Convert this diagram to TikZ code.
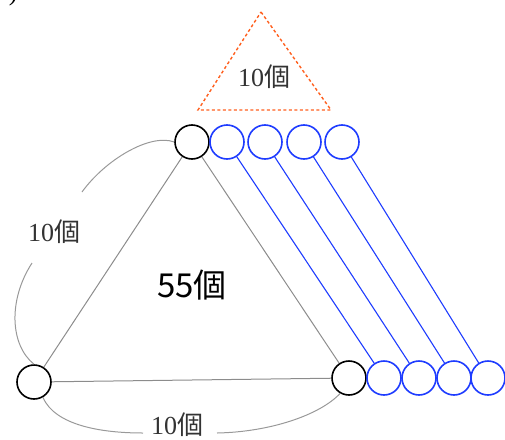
\documentclass[tikz,border=0pt]{standalone}
\usepackage{fontspec}
\setmainfont{Liberation Serif}
\newfontfamily\jpfont{Noto Sans CJK JP}
\usetikzlibrary{positioning}

\begin{document}
\begin{tikzpicture}[x=1pt, y=-1pt,
  ball/.style={circle, draw, line width=1.6pt, minimum size=34pt, inner sep=0pt},
  newball/.style={ball, draw={rgb,255:red,30;green,60;blue,255}},
  edge/.style={draw=black!45, line width=1pt},
  slide/.style={draw={rgb,255:red,30;green,60;blue,255}, line width=1.1pt},
  brace/.style={draw=black!40, line width=1pt},
  count/.style={text=black!80, font=\fontsize{26}{26}\selectfont, inner sep=0pt}
]
\useasboundingbox (0,0) rectangle (505,439);
\node[anchor=base east, font=\fontsize{26}{26}\selectfont] (num) at (21,1) {2)};
% added row on top
\draw[draw={rgb,255:red,255;green,95;blue,30}, line width=1.4pt, dash pattern=on 3pt off 2.5pt]
  (261,12) -- (331,110) -- (198,110) -- cycle;
\node[count] (tri) at (264,77) {10{\jpfont 個}};
% corners of the big triangle
\node[ball] (t0) at (192,142) {};
\node[ball] (bl) at (34,382) {};
\node[ball] (b0) at (349,378) {};
\node[newball] (t1) at (227,142) {};
\node[newball] (t2) at (265,142) {};
\node[newball] (t3) at (304,142) {};
\node[newball] (t4) at (342,142) {};
\node[newball] (b1) at (384,378) {};
\node[newball] (b2) at (419,378) {};
\node[newball] (b3) at (454,378) {};
\node[newball] (b4) at (488,378) {};
\draw[edge] (t0) -- (bl);
\draw[edge] (t0) -- (b0);
\draw[edge] (bl) -- (b0);
\draw[slide] (t1) -- (b1);
\draw[slide] (t2) -- (b2);
\draw[slide] (t3) -- (b3);
\draw[slide] (t4) -- (b4);
\node[font=\jpfont\fontsize{33}{33}\selectfont, inner sep=0pt] (total) at (192,285) {55個};
% side counts
\node[count] (side) at (54,232) {10{\jpfont 個}};
\node[count] (base) at (177,425) {10{\jpfont 個}};
\coordinate (sa) at (82,192);
\coordinate (sb) at (32,263);
\coordinate (ba) at (143,433);
\coordinate (bb) at (217,433);
\draw[brace] (t0.west) .. controls (150,133) and (105,160) .. (sa);
\draw[brace] (sb) .. controls (8,300) and (10,345) .. (bl.north);
\draw[brace] (bl.-60) .. controls (55,425) and (100,433) .. (ba);
\draw[brace] (bb) .. controls (270,432) and (320,415) .. (b0.-120);
\end{tikzpicture}
\end{document}
